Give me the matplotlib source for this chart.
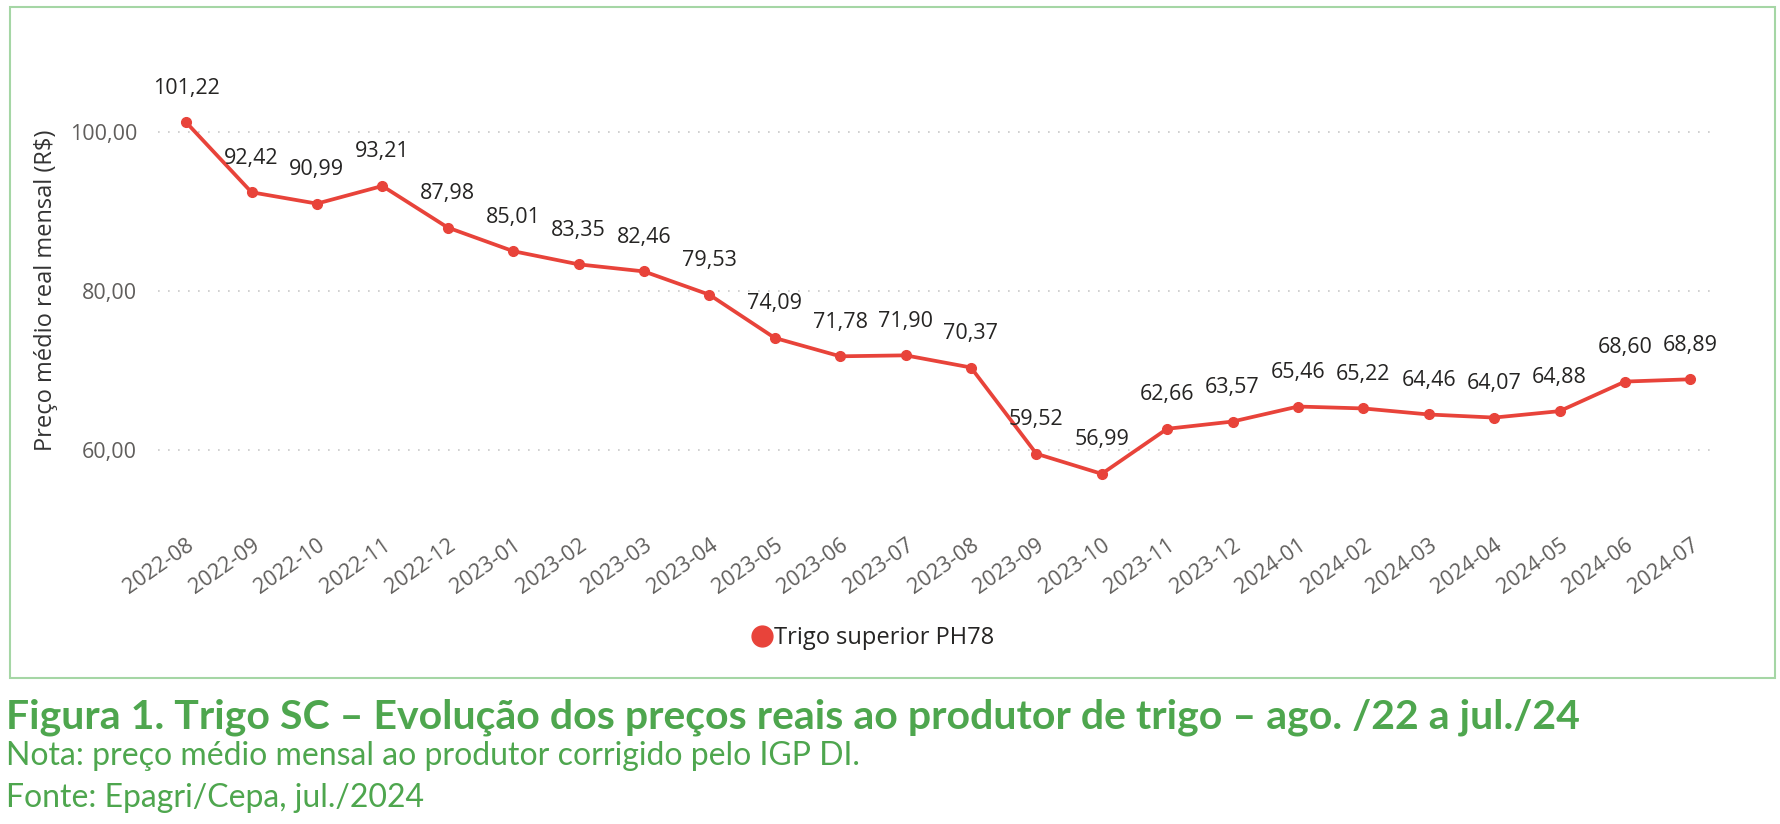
import numpy as np
import matplotlib
matplotlib.use("Agg")
import matplotlib.pyplot as plt
import matplotlib.patches as mpatches
from matplotlib.lines import Line2D

# --- data ---
months = ["2022-08", "2022-09", "2022-10", "2022-11", "2022-12",
          "2023-01", "2023-02", "2023-03", "2023-04", "2023-05",
          "2023-06", "2023-07", "2023-08", "2023-09", "2023-10",
          "2023-11", "2023-12", "2024-01", "2024-02", "2024-03",
          "2024-04", "2024-05", "2024-06", "2024-07"]
prices = [101.22, 92.42, 90.99, 93.21, 87.98, 85.01, 83.35, 82.46, 79.53,
          74.09, 71.78, 71.90, 70.37, 59.52, 56.99, 62.66, 63.57, 65.46,
          65.22, 64.46, 64.07, 64.88, 68.60, 68.89]
yticks = [60, 80, 100]
series_name = "Trigo superior PH78"

# --- style ---
RED = "#E8433A"
GREEN = "#4EA64E"
BORDER = "#A5D6A5"
GRID = "#C8C8C8"
TICK = "#605E5C"
LABEL = "#252423"
FONT = "Open Sans"

W, H = 1780, 824
fig = plt.figure(figsize=(W / 100, H / 100), dpi=100)

def fx(px): return px / W
def fy(py): return 1 - py / H

ax = fig.add_axes([fx(158), fy(500), fx(1710) - fx(158), fy(60) - fy(500)])
x = np.arange(len(prices))
ax.plot(x, prices, color=RED, lw=2.7, marker="o", markersize=7, zorder=3)
for xi, v in zip(x, prices):
    ax.annotate(f"{v:.2f}".replace(".", ","), (xi, v), xytext=(0, 24.5),
                textcoords="offset points", ha="center", va="center",
                fontsize=15.5, color=LABEL, family=FONT)

n = len(prices)
ax.set_xlim(-0.43, n - 1 + 0.3)
ax.set_ylim(53.7, 109.06)
ax.set_yticks(yticks)
ax.set_yticklabels([f"{t:.2f}".replace(".", ",") for t in yticks],
                   fontsize=15.5, color=TICK, family=FONT)
ax.set_xticks(x)
ax.set_xticklabels(months, rotation=35, ha="right", va="top",
                   rotation_mode="anchor", fontsize=15.5, color=TICK, family=FONT)
ax.tick_params(axis="x", length=0, pad=25)
ax.tick_params(axis="y", length=0, pad=15)
ax.grid(axis="y", color=GRID, linestyle=(0, (1, 5)), linewidth=1.2)
for sp in ax.spines.values():
    sp.set_visible(False)
fig.text(fx(46), fy(290), "Preço médio real mensal (R$)", rotation=90,
         ha="center", va="center", fontsize=17, color="#333333", family=FONT)

# legend
leg_h = [Line2D([], [], color=RED, marker="o", linestyle="", markersize=15)]
fig.legend(leg_h, [series_name], loc="center", bbox_to_anchor=(fx(872), fy(638)),
           frameon=False, handletextpad=0.0, prop={"family": FONT, "size": 17},
           labelcolor="#252423", handlelength=1.0)

# outer border
fig.patches.append(mpatches.Rectangle((fx(10), fy(678)), fx(1775) - fx(10),
                                      fy(7) - fy(678), transform=fig.transFigure,
                                      fill=False, edgecolor=BORDER, lw=1.5))

# caption
fig.text(fx(6), fy(717), "Figura 1. Trigo SC – Evolução dos preços reais ao produtor de trigo – ago. /22 a jul./24",
         fontsize=29.5, fontweight="bold", color=GREEN, family="Lato", va="center")
fig.text(fx(6), fy(756), "Nota: preço médio mensal ao produtor corrigido pelo IGP DI.",
         fontsize=23, color=GREEN, family="Lato", va="center")
fig.text(fx(6), fy(798), "Fonte: Epagri/Cepa, jul./2024",
         fontsize=23, color=GREEN, family="Lato", va="center")

fig.savefig("out.png", dpi=100, facecolor="white")
